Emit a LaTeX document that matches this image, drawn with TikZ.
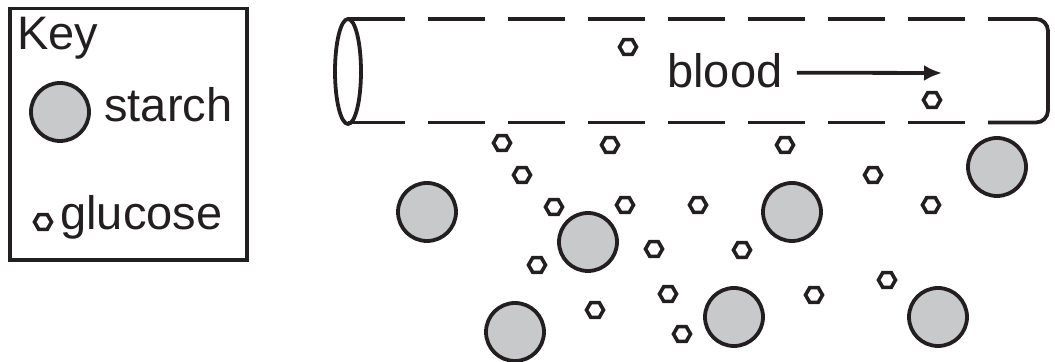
\documentclass[tikz,border=0pt]{standalone}
\usepackage{fontspec}
\setmainfont{Liberation Sans}
\usetikzlibrary{shapes.geometric,arrows.meta}
\definecolor{ink}{RGB}{35,31,32}
\definecolor{starchgray}{RGB}{200,201,203}
\tikzset{
    starch/.style={circle, draw=ink, fill=starchgray, line width=1.9pt, minimum size=29pt, inner sep=0pt},
    glucose/.style={regular polygon, regular polygon sides=6, draw=ink, line width=1.8pt, minimum size=8.5pt, inner sep=0pt},
    word/.style={anchor=base west, inner sep=0pt, text=ink, font=\fontsize{23.5pt}{28pt}\selectfont},
    tube/.style={draw=ink, line width=1.9pt}
}
\begin{document}
\begin{tikzpicture}[x=0.5pt, y=-0.5pt, >={Latex[length=9pt,width=8pt]}]
\useasboundingbox (0,0) rectangle (1055,362);
\begin{scope}
    \draw[tube] (10,8.5) rectangle (247,260);
    \node[word] (key) at (17,50) {Key};
    \node[starch] (keystarch) at (60,112) {};
    \node[word] (keystarchtxt) at (104,122) {starch};
    \node[glucose] (keyglucose) at (43,222) {};
    \node[word] (keyglucosetxt) at (60,230) {glucose};
\end{scope}
\begin{scope}
    \draw[tube] (348,71.5) ellipse (13 and 52.5);
    \draw[tube, dash pattern=on 28.5pt off 11.5pt] (348,19) -- (988,19);
    \draw[tube, dash pattern=on 28.5pt off 11.5pt] (348,122.5) -- (988,122.5);
    \draw[tube, rounded corners=6pt] (988,19) -- (1048,19) -- (1048,122.5) -- (988,122.5);
    \node[word] (blood) at (667,88) {blood};
    \coordinate (flow) at (942,73);
    \draw[tube, ->] ([xshift=7pt, yshift=-0.75pt]blood.east) -- (flow);
\end{scope}
\foreach \p [count=\i] in {(427,212),(588,242),(515,332),(792,212),(997,167),(734,317),(938,317)}
    \node[starch] (s\i) at \p {};
\foreach \p [count=\i] in {(628,47),(932,100),(502,143),(610,145),(785,145),(522,175),(873,175),(554,207),(625,205),(698,205),(931,205),(654,249),(742,250),(537,265),(887,280),(668,294),(814,295),(595,310),(682,334)}
    \node[glucose] (g\i) at \p {};
\end{tikzpicture}
\end{document}
